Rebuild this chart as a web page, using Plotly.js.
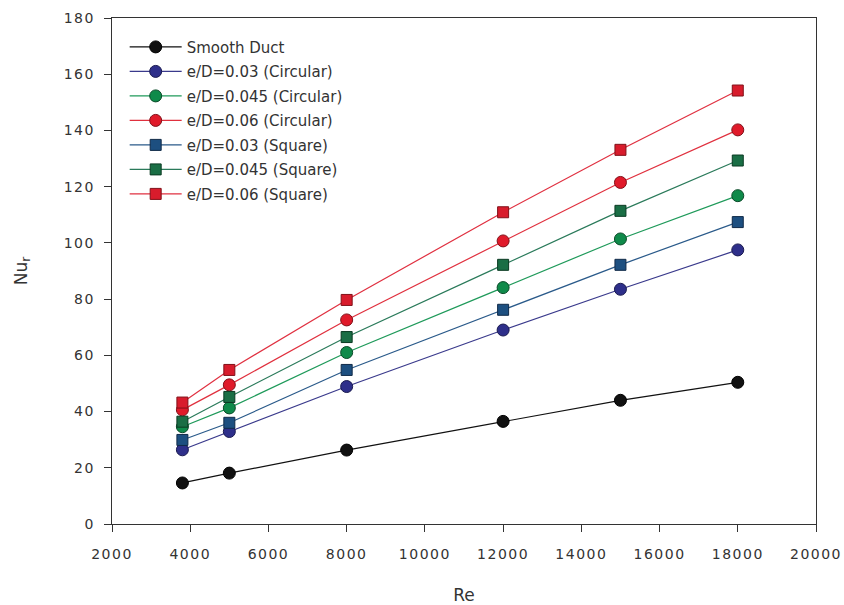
<!DOCTYPE html>
<html>
<head>
<meta charset="utf-8">
<script src="https://cdn.plot.ly/plotly-3.0.1.min.js"></script>
<style>
html,body{margin:0;padding:0;background:#fff;}
#chart{width:844px;height:605px;}
#chart .xtick text, #chart .ytick text{letter-spacing:1.5px;}
</style>
</head>
<body>
<div id="chart"></div>
<script>
var re = [3800, 5000, 8000, 12000, 15000, 18000];
var seriesNames = ["Smooth Duct", "e/D=0.03 (Circular)", "e/D=0.045 (Circular)", "e/D=0.06 (Circular)", "e/D=0.03 (Square)", "e/D=0.045 (Square)", "e/D=0.06 (Square)"];
var smooth      = [14.6, 18.1, 26.3, 36.5, 44.0, 50.4];
var circ003     = [26.4, 32.9, 48.9, 69.0, 83.5, 97.5];
var circ0045    = [34.6, 41.3, 61.0, 84.1, 101.4, 116.8];
var circ006     = [40.6, 49.5, 72.6, 100.7, 121.5, 140.2];
var sq003       = [29.9, 36.0, 54.8, 76.2, 92.2, 107.4];
var sq0045      = [36.4, 45.2, 66.5, 92.2, 111.4, 129.3];
var sq006       = [43.2, 54.8, 79.7, 110.9, 133.1, 154.2];

var values = [smooth, circ003, circ0045, circ006, sq003, sq0045, sq006];
var symbols = ["circle", "circle", "circle", "circle", "square", "square", "square"];
var lineColors = ["#111111", "#3a3a8c", "#1f9a5a", "#e0303e", "#2a5a8a", "#2a7a5a", "#e03040"];
var markerColors = ["#111111", "#2e2f8a", "#0f8a4a", "#e01a2a", "#1d4f80", "#1a6e45", "#d81c2c"];
var markerLines = ["#000000", "#1a1a50", "#0a4a28", "#801018", "#102a48", "#0a3a22", "#801018"];

var traces = values.map(function(v, i) {
  return {
    x: re, y: v, name: seriesNames[i], type: "scatter", mode: "lines+markers",
    legendgroup: "g" + i,
    line: {color: lineColors[i], width: 1.2},
    marker: {symbol: symbols[i], size: symbols[i] === "circle" ? 12 : 11, color: markerColors[i],
             line: {color: markerLines[i], width: 1}}
  };
});

var layout = {
  width: 844, height: 605,
  margin: {l: 112, r: 28, t: 18, b: 81},
  paper_bgcolor: "#ffffff", plot_bgcolor: "#ffffff",
  font: {family: "DejaVu Sans, sans-serif", size: 14, color: "#333333"},
  showlegend: true,
  legend: {x: 0.018, y: 0.975, xanchor: "left", yanchor: "top", bgcolor: "rgba(0,0,0,0)",
           font: {size: 15, color: "#333333"}, itemwidth: 52, tracegroupgap: 2, traceorder: "grouped"},
  xaxis: {
    range: [2000, 20000], dtick: 2000, tick0: 2000, tickformat: "d", showgrid: false, zeroline: false,
    showline: true, linecolor: "#333333", linewidth: 1.3, mirror: true,
    ticks: "outside", ticklen: 7, tickcolor: "#333333", ticklabelstandoff: 10,
    tickfont: {size: 14, color: "#333333"},
    title: {text: "Re", font: {size: 17, color: "#333333"}, standoff: 28}
  },
  yaxis: {
    range: [0, 180], dtick: 20, tickformat: "d", showgrid: false, zeroline: false,
    showline: true, linecolor: "#333333", linewidth: 1.3, mirror: true,
    ticks: "outside", ticklen: 7, tickcolor: "#333333", ticklabelstandoff: 6,
    tickfont: {size: 14, color: "#333333"},
    title: {text: "Nu<sub>r</sub>", font: {size: 17, color: "#333333"}, standoff: 36}
  }
};

Plotly.newPlot("chart", traces, layout, {displayModeBar: false, staticPlot: true});
</script>
</body>
</html>
